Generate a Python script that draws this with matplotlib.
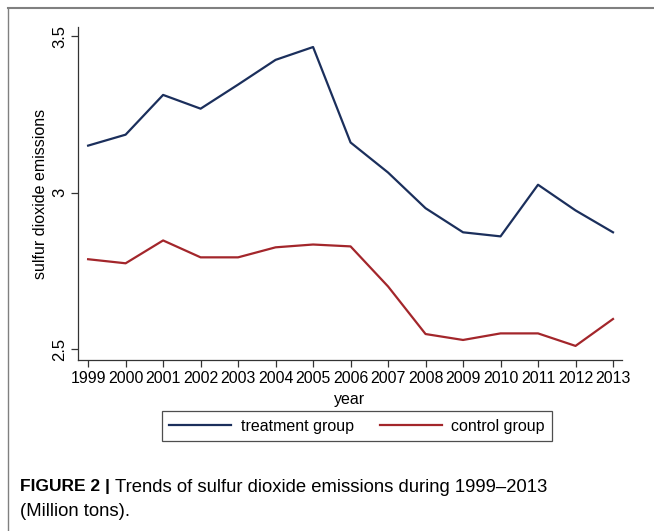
import matplotlib
matplotlib.use("Agg")
import matplotlib.pyplot as plt
from matplotlib.lines import Line2D

plt.rcParams['font.family'] = ['Liberation Sans', 'DejaVu Sans']

years = list(range(1999, 2014))
treatment = [3.150, 3.185, 3.312, 3.268, 3.345, 3.424, 3.465, 3.160,
             3.064, 2.950, 2.873, 2.860, 3.025, 2.943, 2.873]
control = [2.787, 2.774, 2.847, 2.793, 2.793, 2.825, 2.834, 2.828,
           2.700, 2.548, 2.529, 2.550, 2.550, 2.510, 2.596]
yticks = [2.5, 3, 3.5]
ytick_labels = ['2.5', '3', '3.5']

navy = '#1b2f5c'
maroon = '#a3262b'

fig = plt.figure(figsize=(6.54, 5.31), dpi=100)
W, H = 654, 531
ax = fig.add_axes([78 / W, 1 - 360 / H, (622 - 78) / W, (360 - 27) / H])

ax.plot(years, treatment, color=navy, lw=1.6, label='treatment group')
ax.plot(years, control, color=maroon, lw=1.6, label='control group')

ax.set_xlim(1998.73, 2013.24)
ax.set_ylim(2.465, 3.529)
ax.set_xticks(years)
ax.set_xticklabels([str(y) for y in years], fontsize=11.4)
ax.set_yticks(yticks)
ax.set_yticklabels(ytick_labels, fontsize=12, rotation=90, va='center')
ax.tick_params(axis='both', length=5, width=0.9, color='#333333', pad=3)
for s in ['top', 'right']:
    ax.spines[s].set_visible(False)
for s in ['left', 'bottom']:
    ax.spines[s].set_linewidth(0.9)
    ax.spines[s].set_color('#333333')

ax.set_xlabel('year', fontsize=11.5, labelpad=4)
ax.set_ylabel('sulfur dioxide emissions', fontsize=11.5, labelpad=3)

handles = [Line2D([], [], color=navy, lw=1.6), Line2D([], [], color=maroon, lw=1.6)]
leg = fig.legend(handles, ['treatment group', 'control group'], ncol=2,
                 loc='center', bbox_to_anchor=(357 / W, 1 - 426 / H),
                 fontsize=11.5, frameon=True, fancybox=False, edgecolor='#222222',
                 handlelength=3.9, columnspacing=1.6, handletextpad=0.6,
                 borderpad=0.45, borderaxespad=0)
leg.get_frame().set_linewidth(0.9)

# outer frame of the figure panel
fig.add_artist(Line2D([8 / W, 1], [1 - 8 / H, 1 - 8 / H], color='#808080', lw=1.5))
fig.add_artist(Line2D([8 / W, 8 / W], [0, 1 - 8 / H], color='#808080', lw=1.0))

t1 = fig.text(20 / W, 1 - 487 / H, 'FIGURE 2 |', fontsize=12.5, fontweight='bold',
              va='center', ha='left')
fig.canvas.draw()
bb = t1.get_window_extent()
fig.text((bb.x1 + 5) / W, 1 - 487 / H,
         'Trends of sulfur dioxide emissions during 1999\u20132013',
         fontsize=13.3, va='center', ha='left')
fig.text(20 / W, 1 - 512 / H, '(Million tons).', fontsize=13.3, va='center', ha='left')

fig.savefig('out.png', dpi=100)
